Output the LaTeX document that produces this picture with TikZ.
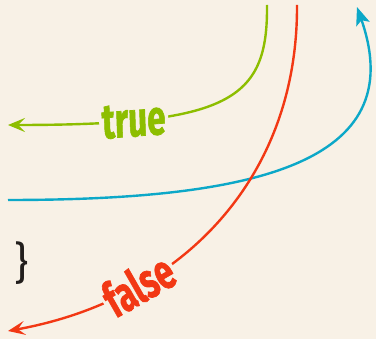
\documentclass[tikz,border=0pt]{standalone}
\usepackage{fontspec}
\setmainfont{Fira Sans}
\newfontfamily\lblfont{Fira Sans}[BoldFeatures={FakeBold=1.5}]
\usepackage{tikz}
\usetikzlibrary{arrows.meta, positioning}
\definecolor{paper}{RGB}{248,241,230}
\definecolor{truecol}{RGB}{141,190,0}
\definecolor{falsecol}{RGB}{242,56,20}
\definecolor{loopcol}{RGB}{12,168,200}
\definecolor{ink}{RGB}{34,30,28}

\begin{document}
\begin{tikzpicture}[
  x=1pt, y=-1pt,
  branch/.style={line width=2.4pt, -{Stealth[length=17pt, width=14pt, inset=7pt]}},
  lbl/.style={font=\lblfont\bfseries\fontsize{49}{49}\selectfont, fill=paper,
    inner xsep=4pt, inner ysep=0pt, xscale=0.68}
]
  \fill[paper] (0,0) rectangle (376,339);
  \useasboundingbox (0,0) rectangle (376,339);

  \coordinate (gtop) at (267,5);
  \coordinate (gend) at (8,125);
  \coordinate (rtop) at (297,5);
  \coordinate (rend) at (8,331);
  \coordinate (bstart) at (8,200);
  \coordinate (bend) at (357,7);

  % the loop back
  \draw[line width=2.4pt, loopcol, -{Stealth[length=18pt, width=14pt, inset=4pt]}]
    (bstart) .. controls (250,200) and (412,165) .. (bend);

  % both branches
  \draw[branch, truecol] (gtop) .. controls (268,100) and (230,125) .. (gend)
    node[lbl, pos=0.77, text=truecol, rotate=3] (truelbl) {true};
  \draw[branch, falsecol] (rtop) .. controls (298,180) and (180,300) .. (rend)
    node[lbl, pos=0.72, sloped, text=falsecol] (falselbl) {false};

  \node[text=ink, font=\fontsize{44}{44}\selectfont] (brace) at (22,263) {\}};
\end{tikzpicture}
\end{document}
